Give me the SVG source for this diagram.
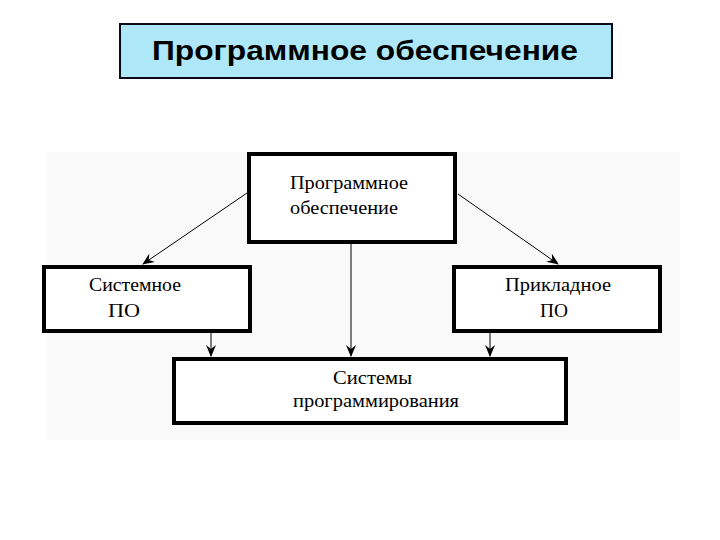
<svg xmlns="http://www.w3.org/2000/svg" width="720" height="540" viewBox="0 0 720 540">
<style>
.node{fill:#ffffff;stroke:#000;stroke-width:4}
.t{font-family:"Liberation Serif","Times New Roman",serif;font-size:19px;fill:#000}
.c{stroke:#000;stroke-width:1;fill:none}
</style>
<defs>
<marker id="ah" viewBox="0 0 12 10" refX="11" refY="5" markerWidth="12" markerHeight="10" markerUnits="userSpaceOnUse" orient="auto">
<path d="M0,0 L12,5 L0,10 L4,5 z" fill="#000"/>
</marker>
</defs>
<rect x="0" y="0" width="720" height="540" fill="#ffffff"/>
<rect x="47" y="152" width="633" height="288" fill="#f9f9f9"/>
<g id="title">
<rect x="120" y="24" width="492" height="54" fill="#aee8f8" stroke="#0a0a1a" stroke-width="2"/>
<text x="365" y="60" text-anchor="middle" font-family="'Liberation Sans',Arial,sans-serif" font-weight="bold" font-size="27" textLength="426" lengthAdjust="spacingAndGlyphs">Программное обеспечение</text>
</g>
<g id="connectors">
<line class="c" x1="247" y1="193" x2="143" y2="264" marker-end="url(#ah)"/>
<line class="c" x1="458" y1="194" x2="558" y2="264" marker-end="url(#ah)"/>
<line class="c" x1="351" y1="244" x2="351" y2="356" marker-end="url(#ah)"/>
<line class="c" x1="211" y1="333" x2="211" y2="356" marker-end="url(#ah)"/>
<line class="c" x1="490" y1="333" x2="490" y2="356" marker-end="url(#ah)"/>
</g>
<g id="root">
<rect class="node" x="249" y="154" width="206" height="88"/>
<text class="t" x="290" y="189" textLength="118" lengthAdjust="spacingAndGlyphs">Программное</text>
<text class="t" x="290" y="214" textLength="108" lengthAdjust="spacingAndGlyphs">обеспечение</text>
</g>
<g id="system">
<rect class="node" x="44" y="267" width="206" height="64"/>
<text class="t" x="89" y="291" textLength="92" lengthAdjust="spacingAndGlyphs">Системное</text>
<text class="t" x="108" y="317" textLength="32" lengthAdjust="spacingAndGlyphs">ПО</text>
</g>
<g id="applied">
<rect class="node" x="454" y="267" width="206" height="64"/>
<text class="t" x="505" y="291" textLength="106" lengthAdjust="spacingAndGlyphs">Прикладное</text>
<text class="t" x="540" y="317" textLength="28" lengthAdjust="spacingAndGlyphs">ПО</text>
</g>
<g id="programming">
<rect class="node" x="174" y="359" width="392" height="64"/>
<text class="t" x="333" y="384" textLength="79" lengthAdjust="spacingAndGlyphs">Системы</text>
<text class="t" x="293" y="407" textLength="166" lengthAdjust="spacingAndGlyphs">программирования</text>
</g>
</svg>
